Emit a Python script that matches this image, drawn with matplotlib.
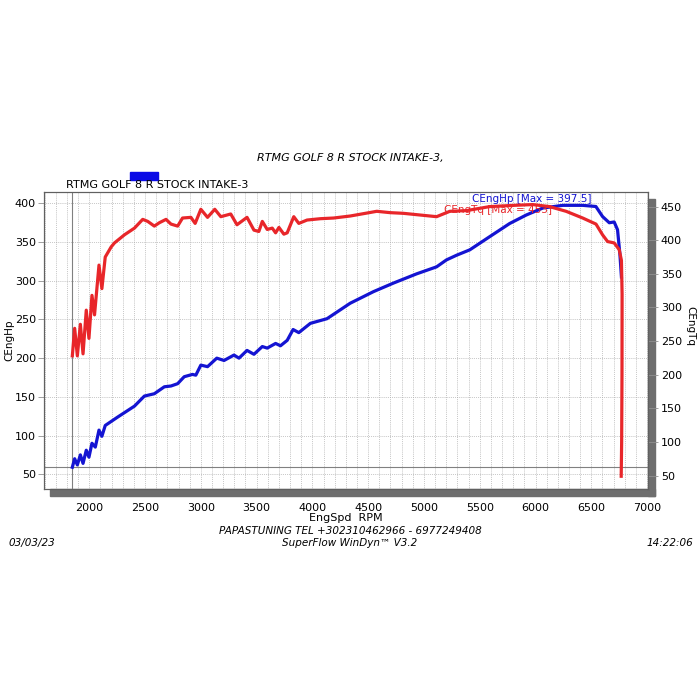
import matplotlib.pyplot as plt
from matplotlib.patches import Rectangle
from matplotlib.ticker import MultipleLocator

# engine power (left axis)
hp_rpm = [1848, 1869, 1893, 1920, 1944, 1973, 1997, 2024, 2054, 2087, 2113, 2143,
          2256, 2405, 2494, 2583, 2673, 2732, 2792, 2851, 2925, 2955, 3000, 3060,
          3143, 3208, 3297, 3342, 3414, 3476, 3551, 3595, 3670, 3714, 3774, 3827,
          3878, 3982, 4131, 4339, 4548, 4726, 4935, 5113, 5202, 5292, 5411, 5589,
          5768, 5917, 6065, 6244, 6423, 6541, 6601, 6661, 6705, 6735, 6756, 6770]
hp = [59, 70, 62, 75, 64, 81, 72, 90, 85, 107, 99, 113,
      124, 138, 151, 154, 163, 164, 167, 176, 179, 178, 191, 189,
      200, 197, 204, 200, 210, 205, 215, 213, 219, 216, 223, 237,
      233, 245, 251, 271, 286, 297, 309, 318, 327, 333, 340, 357,
      374, 385, 394, 397.5, 397.5, 396, 383, 375, 376, 366, 335, 305]

# engine torque (right axis)
tq_rpm = [1848, 1869, 1893, 1920, 1944, 1973, 1997, 2024, 2047, 2087, 2113, 2143,
          2196, 2226, 2315, 2405, 2479, 2524, 2583, 2628, 2688, 2732, 2792, 2836,
          2911, 2949, 3000, 3060, 3125, 3179, 3268, 3324, 3414, 3476, 3520, 3551,
          3595, 3640, 3670, 3700, 3744, 3774, 3833, 3878, 3952, 4071, 4190, 4339,
          4577, 4696, 4815, 5113, 5232, 5381, 5589, 5827, 5976, 6125, 6274, 6423,
          6542, 6601, 6646, 6705, 6750, 6770, 6776, 6775, 6772, 6768]
tq = [228, 269, 228, 275, 231, 296, 254, 318, 289, 363, 328, 375,
      390, 396, 408, 418, 431, 428, 421, 426, 431, 424, 421, 433,
      434, 425, 446, 434, 446, 435, 439, 423, 434, 415, 413, 428,
      416, 418, 411, 419, 409, 411, 435, 425, 430, 432, 433, 436,
      443, 441, 440, 435, 443, 444, 450, 452, 453, 450, 443, 433,
      424, 408, 398, 396, 386, 370, 320, 200, 100, 49]

x_ticks = list(range(2000, 7001, 500))
y_ticks = list(range(50, 401, 50))
y2_ticks = list(range(50, 451, 50))

blue = '#1414d2'
red = '#e8262a'

fig = plt.figure(figsize=(7, 7), dpi=100)
ax = fig.add_axes([0.063, 0.301, 0.863, 0.425])
ax2 = ax.twinx()

ax.set_xlim(1595, 7010)
ax.set_ylim(30.5, 415)
ax2.set_ylim(29.6, 472)

# grid
ax.xaxis.set_minor_locator(MultipleLocator(100))
ax.grid(which='both', axis='x', color='#a8a8a8', linestyle=(0, (1, 1.5)), linewidth=0.55)
ax.grid(which='major', axis='y', color='#a8a8a8', linestyle=(0, (1, 1.5)), linewidth=0.55)
ax.set_axisbelow(True)

# cursor lines
ax.axvline(1845, color='#808080', linewidth=0.8)
ax.axhline(59.5, color='#808080', linewidth=0.8)

ax.plot(hp_rpm, hp, color=blue, linewidth=2.3, solid_joinstyle='round')
ax2.plot(tq_rpm, tq, color=red, linewidth=2.3, solid_joinstyle='round')

ax.set_xticks(x_ticks)
ax.set_yticks(y_ticks)
ax2.set_yticks(y2_ticks)
ax.tick_params(axis='x', which='both', length=0, pad=10, labelsize=8)
ax.tick_params(axis='y', length=4, width=0.6, color='#909090', labelsize=8, pad=2)
ax2.tick_params(axis='y', length=7, width=0.6, color='#909090', labelsize=8, pad=2)

for a in (ax, ax2):
    for s in a.spines.values():
        s.set_color('#606060')
        s.set_linewidth(0.8)

# drop shadow
ax.add_patch(Rectangle((0.01, -0.024), 1.0016, 0.024, transform=ax.transAxes,
                       color='#6e6e6e', clip_on=False, zorder=0))
ax.add_patch(Rectangle((1.0, -0.024), 0.0116, 1.0, transform=ax.transAxes,
                       color='#6e6e6e', clip_on=False, zorder=0))

ax.set_xlabel('EngSpd  RPM', fontsize=8, labelpad=0)
ax.set_ylabel('CEngHp', fontsize=7.5, va='center')
ax.yaxis.set_label_coords(-0.057, 0.5)
ax2.set_ylabel('CEngTq', fontsize=7.5, rotation=270, va='center')
ax2.yaxis.set_label_coords(1.069, 0.55)

ax.text(5430, 399, 'CEngHp [Max = 397.5]', color=blue, fontsize=7.5, va='bottom')
ax.text(5180, 391.5, 'CEngTq [Max = 453]', color=red, fontsize=7.5, va='center')

# header
fig.text(0.5, 0.774, 'RTMG GOLF 8 R STOCK INTAKE-3,', ha='center', va='center',
         fontsize=8, style='italic')
fig.add_artist(Rectangle((0.186, 0.743), 0.04, 0.011, color='#0a0ae6'))
fig.text(0.094, 0.736, 'RTMG GOLF 8 R STOCK INTAKE-3', ha='left', va='center', fontsize=8)

# footer
fig.text(0.5, 0.241, 'PAPASTUNING TEL +302310462966 - 6977249408', ha='center', va='center',
         fontsize=7.5, style='italic')
fig.text(0.5, 0.224, 'SuperFlow WinDyn\u2122 V3.2', ha='center', va='center',
         fontsize=7.5, style='italic')
fig.text(0.012, 0.224, '03/03/23', ha='left', va='center', fontsize=7.5, style='italic')
fig.text(0.99, 0.224, '14:22:06', ha='right', va='center', fontsize=7.5, style='italic')

fig.savefig('out.png', dpi=100)
